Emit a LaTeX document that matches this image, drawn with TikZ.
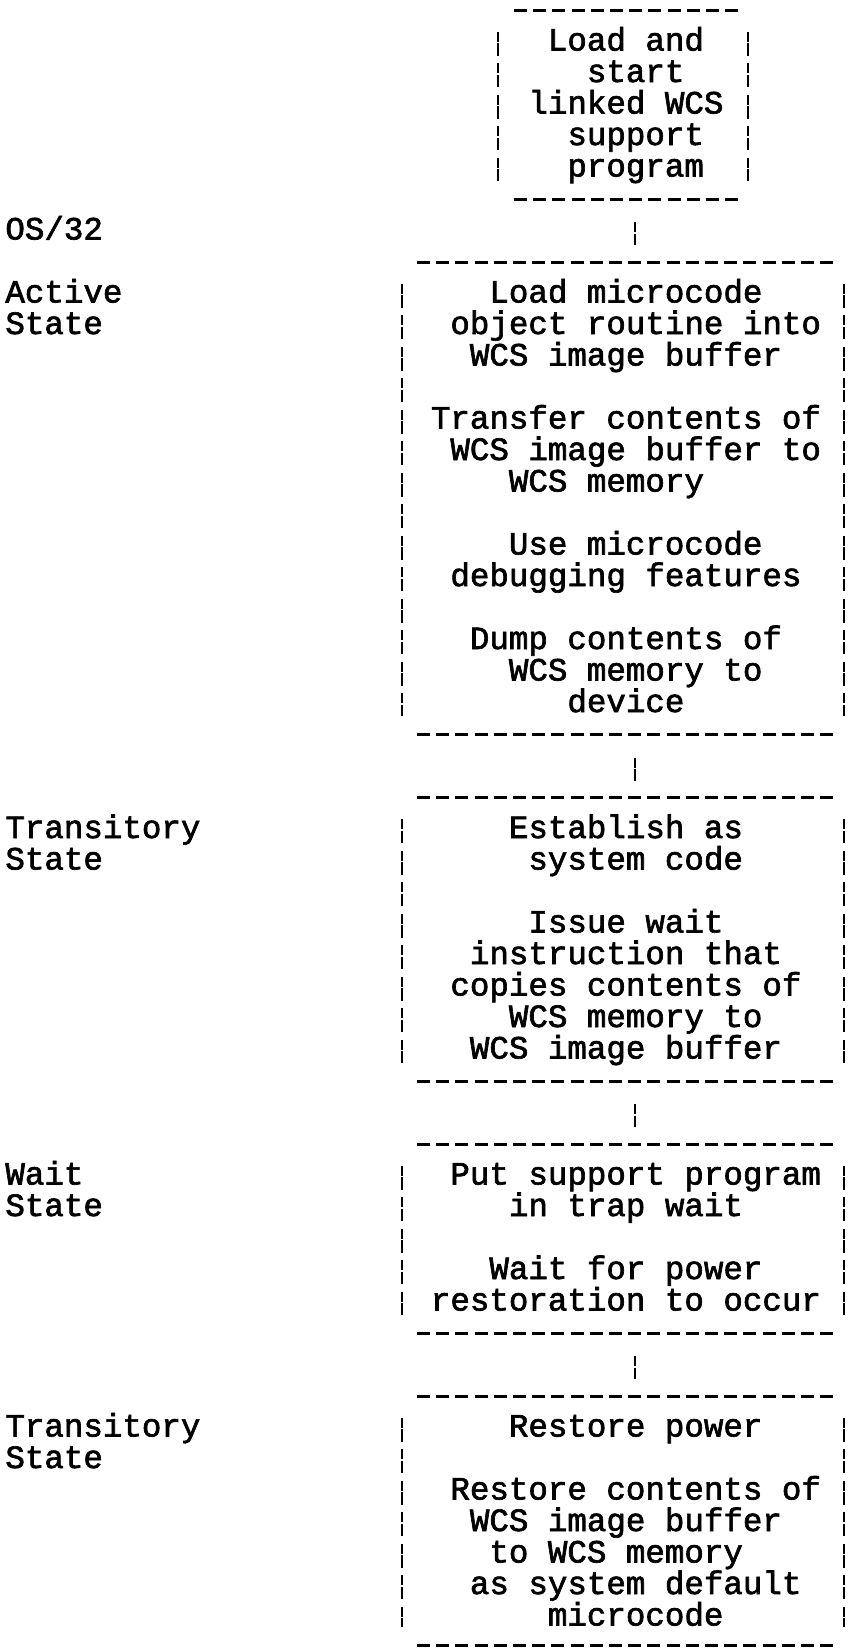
\documentclass[tikz,border=0pt]{standalone}
\usepackage{fontspec}
\newfontfamily\typefont{Liberation Mono}[FakeBold=2]
\begin{document}
% One unit is half a point, the y axis runs downwards; each typed row is 31.5 units apart.
\newcommand\drawframe[7]{%
  % #1 name, #2/#3 x of left/right side, #4/#5 x range of the dashed edges, #6/#7 rows of top/bottom edge
  \coordinate (#1-nw) at (#4,{10+31.5*#6});
  \coordinate (#1-ne) at (#5,{10+31.5*#6});
  \coordinate (#1-sw) at (#4,{10+31.5*#7});
  \coordinate (#1-se) at (#5,{10+31.5*#7});
  \coordinate (#1-n) at (635,{10+31.5*#6});
  \coordinate (#1-s) at (635,{10+31.5*#7});
  \draw[hrule] (#1-nw) -- (#1-ne);
  \draw[hrule] (#1-sw) -- (#1-se);
  \draw[vrule] (#2,{10+31.5*(#6+1)-10}) -- (#2,{10+31.5*(#7-1)+13});
  \draw[vrule] (#3,{10+31.5*(#6+1)-10}) -- (#3,{10+31.5*(#7-1)+13});
}
\begin{tikzpicture}[x=0.5pt,y=-0.5pt,
  txt/.style={font=\typefont\fontsize{16.25pt}{15.75pt}\selectfont,
              inner sep=0pt, anchor=base west},
  hrule/.style={line width=1.5pt, dash pattern=on 6.5pt off 3.1pt},
  vrule/.style={line width=1.3pt, dash pattern=on 5pt off 0.8pt on 6.2pt off 3.75pt},
  conn/.style={line width=1.3pt, dash pattern=on 5pt off 0.8pt on 6.2pt off 10pt,
               shorten <=11.5pt, shorten >=8.5pt}]
\useasboundingbox (0,0) rectangle (849,1649);

% frames of the five boxes
\drawframe{b1}{498}{748}{514}{738}{0}{6}
\drawframe{b2}{402}{844}{417}{833}{8}{23}
\drawframe{b3}{402}{844}{417}{833}{25}{34}
\drawframe{b4}{402}{844}{417}{833}{36}{42}
\drawframe{b5}{402}{844}{417}{833}{44}{51.93}

% links between consecutive boxes
\draw[conn] (b1-s) -- (b2-n);
\draw[conn] (b2-s) -- (b3-n);
\draw[conn] (b3-s) -- (b4-n);
\draw[conn] (b4-s) -- (b5-n);

% box contents: row / column / text
\foreach \rw/\cl/\ln in {
  1/5/Load and, 2/7/start, 3/4/linked WCS, 4/6/support, 5/6/program,
  9/2/Load microcode, 10/0/object routine into, 11/1/WCS image buffer,
  13/-1/Transfer contents of, 14/0/WCS image buffer to, 15/3/WCS memory,
  17/3/Use microcode, 18/0/debugging features,
  20/1/Dump contents of, 21/3/WCS memory to, 22/6/device,
  26/3/Establish as, 27/4/system code,
  29/4/Issue wait, 30/1/instruction that, 31/0/copies contents of,
  32/3/WCS memory to, 33/1/WCS image buffer,
  37/0/Put support program, 38/3/in trap wait,
  40/2/Wait for power, 41/-1/restoration to occur,
  45/3/Restore power,
  47/0/Restore contents of, 48/1/WCS image buffer, 49/2/to WCS memory,
  50/1/as system default, 51/5/microcode}
  \node[txt] (t\rw) at ({450+19.5*\cl},{19+31.5*\rw}) {\ln};

% state labels on the left
\node[txt] (os) at (5,{19+31.5*7}) {OS/32};
\foreach \rw/\ln in {9/Active, 10/State, 26/Transitory, 27/State,
  37/Wait, 38/State, 45/Transitory, 46/State}
  \node[txt] (s\rw) at (5,{19+31.5*\rw}) {\ln};
\end{tikzpicture}
\end{document}
